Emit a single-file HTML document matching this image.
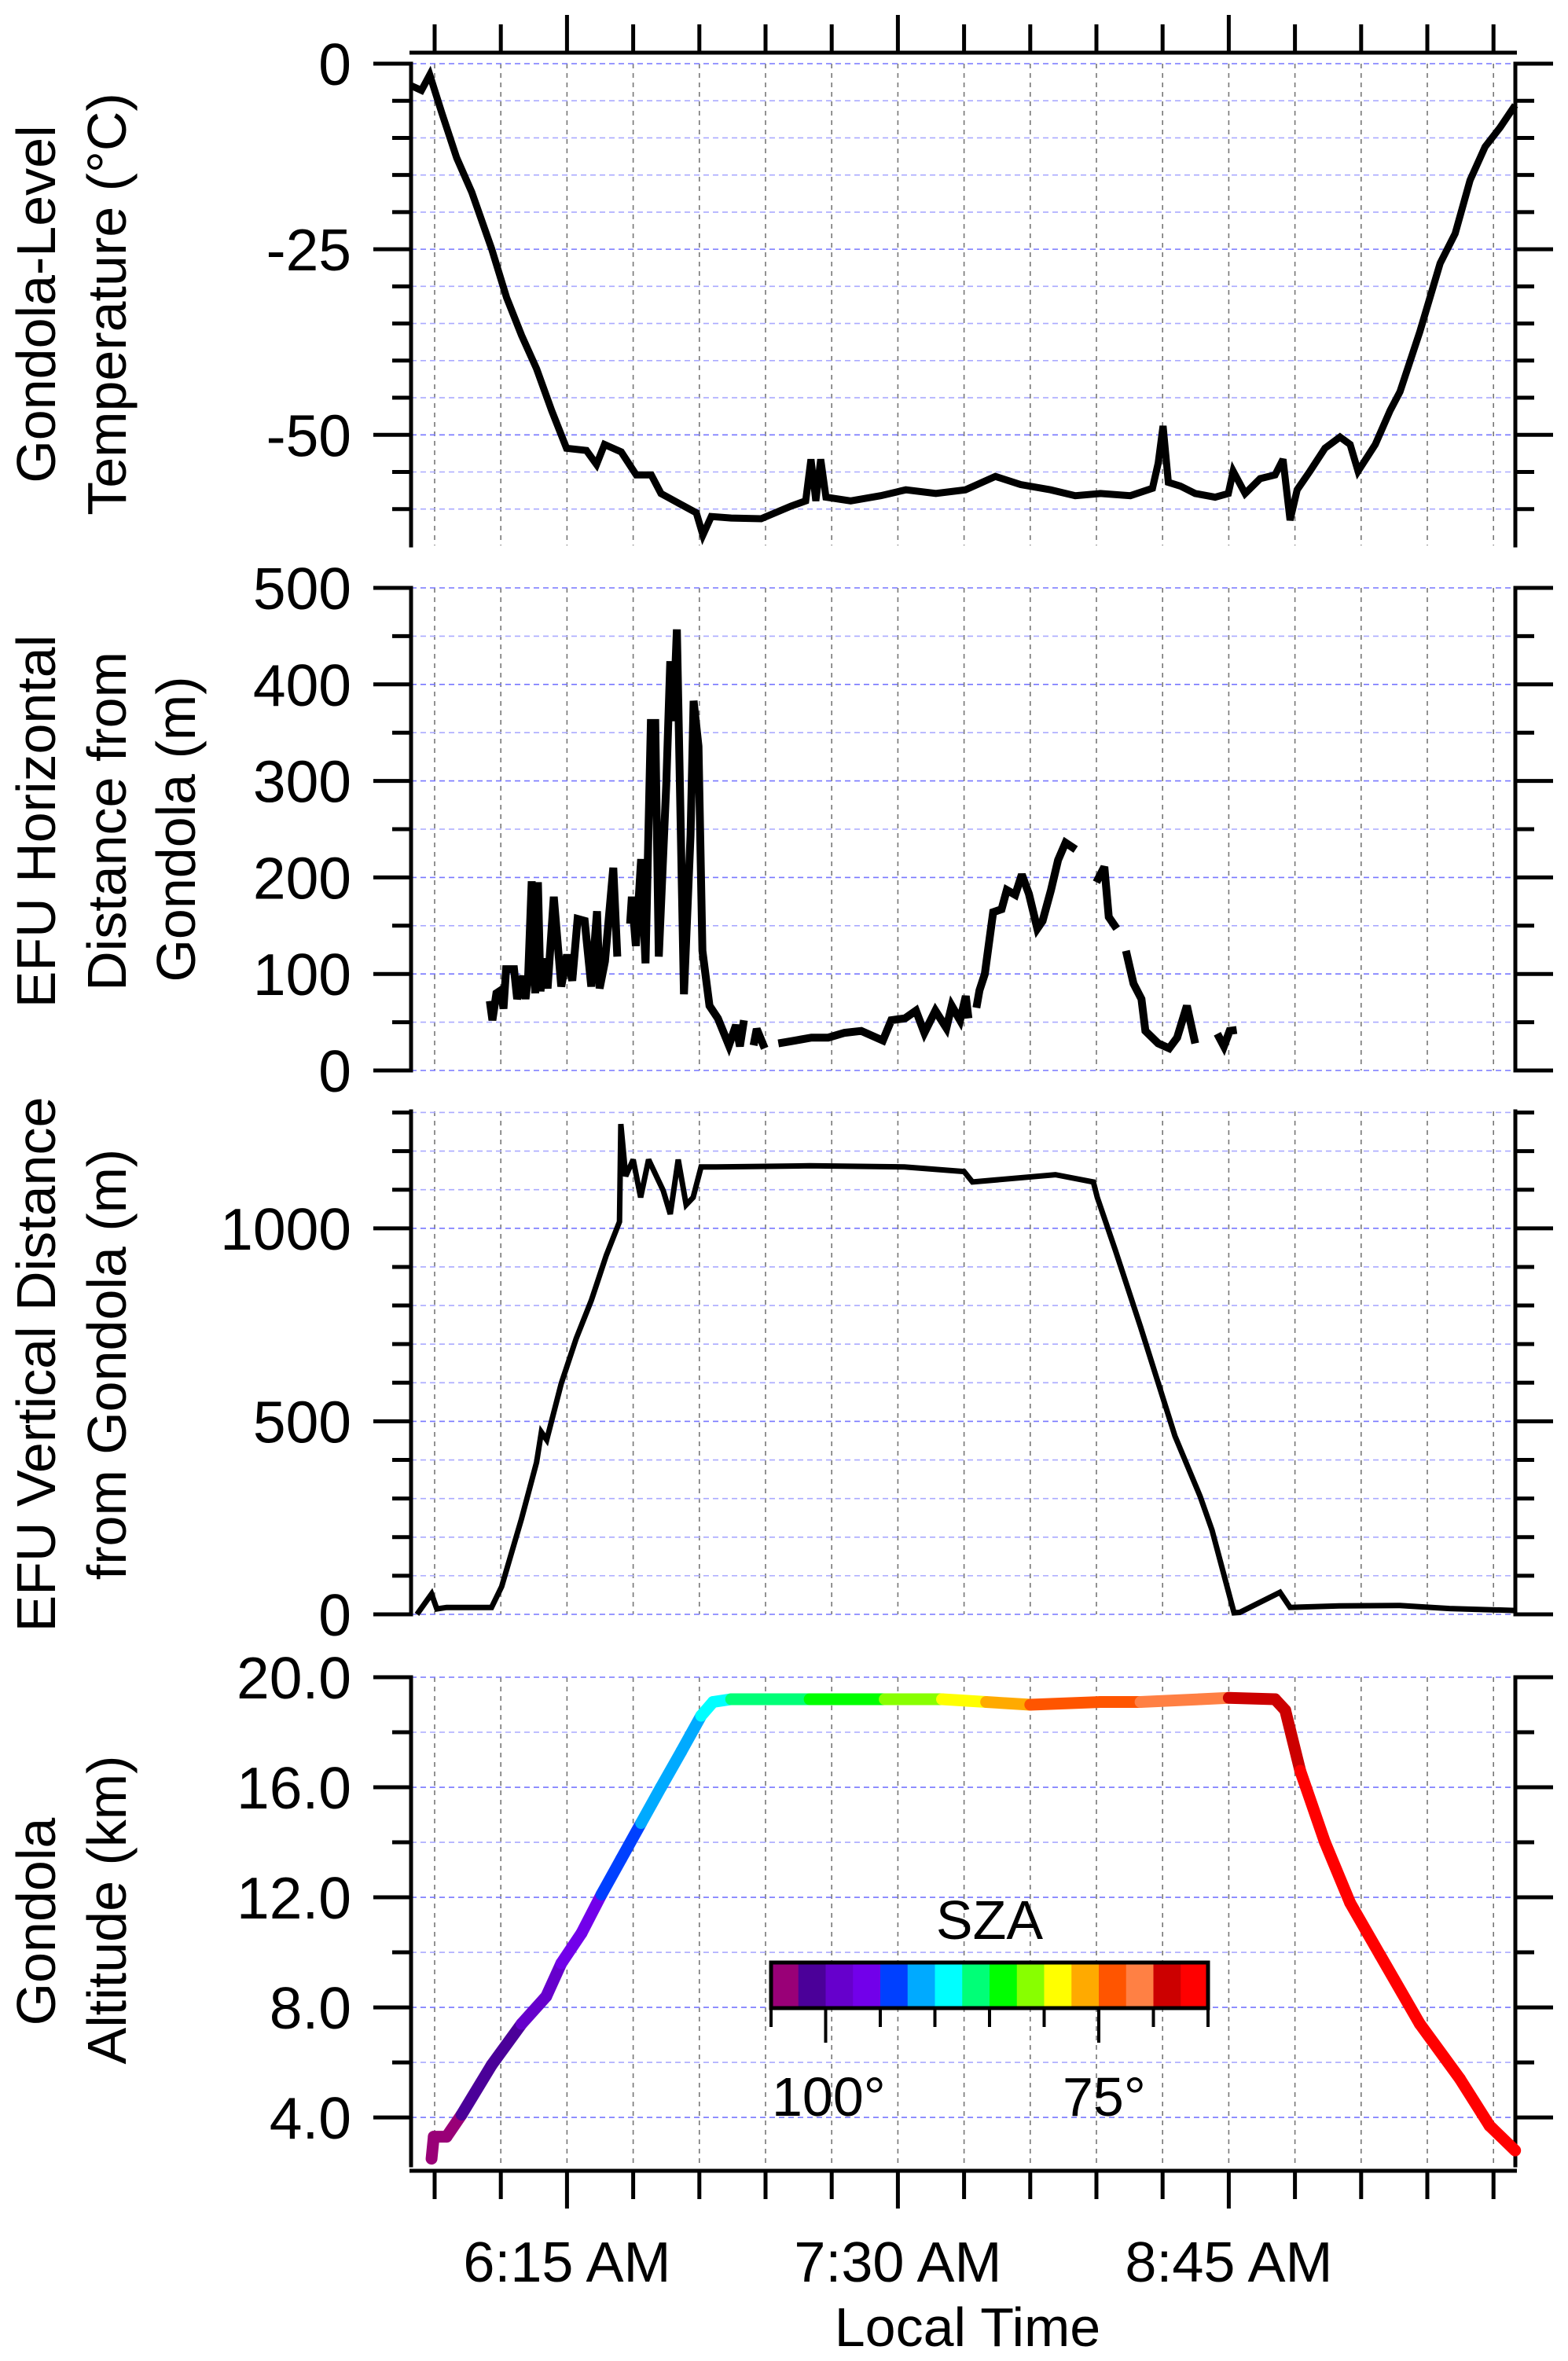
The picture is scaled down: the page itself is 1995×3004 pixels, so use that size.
<!DOCTYPE html>
<html><head><meta charset="utf-8">
<style>
html,body{margin:0;padding:0;background:#fff;}
svg{display:block;}
text{font-family:"Liberation Sans","DejaVu Sans",sans-serif;fill:#000;}
</style></head>
<body>
<svg id="chart" width="1995" height="3004" viewBox="0 0 1995 3004" xmlns="http://www.w3.org/2000/svg">
<g id="grid"></g>
<g id="axes"></g>
<g id="series"></g>
<g id="labels">
  <text font-size="70" text-anchor="middle" transform="translate(70,387) rotate(-90)">Gondola-Level</text>
  <text font-size="70" text-anchor="middle" transform="translate(160,387) rotate(-90)">Temperature (°C)</text>
  <text font-size="70" text-anchor="middle" transform="translate(70,1045) rotate(-90)">EFU Horizontal</text>
  <text font-size="70" text-anchor="middle" transform="translate(160,1045) rotate(-90)">Distance from</text>
  <text font-size="70" text-anchor="middle" transform="translate(248,1055) rotate(-90)">Gondola (m)</text>
  <text font-size="70" text-anchor="middle" transform="translate(70,1736) rotate(-90)">EFU Vertical Distance</text>
  <text font-size="70" text-anchor="middle" transform="translate(160,1736) rotate(-90)">from Gondola (m)</text>
  <text font-size="70" text-anchor="middle" transform="translate(70,2445) rotate(-90)">Gondola</text>
  <text font-size="70" text-anchor="middle" transform="translate(160,2430) rotate(-90)">Altitude (km)</text>
  <text font-size="70" text-anchor="middle" x="1231" y="2985">Local Time</text>
</g>
<g id="legend">
  <text font-size="70" text-anchor="middle" x="1259" y="2467">SZA</text>
  <text font-size="70" x="982" y="2692">100°</text>
  <text font-size="70" x="1352" y="2692">75°</text>
</g>
</svg>
<script>
// ---- data ----
const xTickLabels = ["6:15 AM","7:30 AM","8:45 AM"];
const xTickLabelTimes = [375, 450, 525];
// Panel 1: temperature
const tempTime = [339.8,342,343.9,346.6,350,353.4,357.9,361.3,364.7,368.1,371.5,374.9,379.4,381.7,383.5,387.3,390.7,394.1,396.3,400.9,404.3,405.8,407.7,412.2,419,425.8,429.1,430.3,431.4,432.5,433.7,439.3,446.1,451.8,458.6,465.3,472.1,477.8,484.6,490.2,495.9,502.7,507.7,509,510.1,511.3,514,517.4,521.9,524.9,526,528.7,532.1,535.5,537.3,538.9,540.5,543.4,546.8,550.2,552.5,554.3,558.2,561.6,563.8,568.3,572.9,576.3,579.7,583.1,586.5,589.9];
const tempValue = [-3,-3.6,-1.5,-6.6,-12.7,-17.3,-24.9,-31.5,-36.6,-41.1,-46.7,-51.8,-52.1,-54,-51.3,-52.3,-55.4,-55.4,-57.9,-59.4,-60.5,-63.5,-61,-61.2,-61.3,-59.6,-58.9,-53.3,-58.9,-53.3,-58.4,-58.9,-58.2,-57.4,-57.9,-57.4,-55.6,-56.7,-57.4,-58.2,-57.9,-58.2,-57.2,-53.8,-48.8,-56.4,-56.9,-57.9,-58.4,-57.9,-54.9,-57.9,-55.9,-55.4,-53.3,-61.5,-57.4,-54.9,-51.8,-50.3,-51.3,-54.9,-51.3,-46.7,-44.2,-36.1,-26.9,-22.9,-15.7,-11.2,-8.6,-5.6];
const tempTicks = [0,-25,-50];
// Panel 2: horizontal distance (null = gap)
const hdistTime = [357.5,358.1,359,360,360.6,361.2,363,363.7,365,365.6,366.2,367,367.8,368.4,369,369.7,370.6,372,373.7,375,376.2,377.4,379,380.5,381.8,382.4,383.6,385.5,386.4,387.5,389.3,389.7,390.6,391.8,392.8,394,395,395.8,397.5,398.4,399.1,399.9,400.5,401.5,403,403.7,404.8,405.7,407.3,409.2,411.7,413.3,414.2,415.1,416,417.3,418,419.8,421,422.9,426.7,430.4,434.2,437.9,441.7,446.6,448.5,451.6,454.1,456,458.5,461,462.2,464.1,465.4,466,467,467.8,468.5,469.7,471.6,473.5,474.7,476.6,478.1,479.7,481.6,482.8,484.7,486.3,488,490.3,492,495,496.8,497.8,499.6,500.5,501.7,503.4,505.2,506.1,509,511.5,513.3,515.5,517.4,520,522.4,523.9,525.2,526.8];
const hdistValue = [72,52,80,83,64,105,105,74,98,74,98,196,80,195,82,116,85,180,87,120,93,157,155,87,165,85,113,210,118,null,152,180,129,219,111,360,360,118,296,424,362,457,319,79,244,383,336,124,67,54,26,47,25,52,null,26,43,23,null,28,31,34,34,39,41,31,52,54,62,39,62,44,67,52,77,54,null,65,83,100,164,167,187,182,203,183,147,155,187,218,236,229,null,195,211,159,147,null,124,90,74,41,28,23,34,67,28,null,38,25,41,42];
const hdistTicks = [0,100,200,300,400,500];
// Panel 3: vertical distance
const vdistTime = [341,344.3,345.5,347.7,357.9,360.2,364.7,368.1,369.2,370.4,373.7,377.1,380.5,383.9,386.9,387.2,388.3,390,391.7,393.5,396.8,398.4,400.2,402,403.6,405.4,408.8,430,451.5,465,466.9,485.7,494.3,495.2,499.3,505,512.8,518.5,521.2,526.2,527.5,536.6,538.9,550,563.8,575,589.9];
const vdistValue = [0,53,14,18,18,72,248,394,472,452,598,715,813,930,1017,1270,1135,1178,1080,1178,1098,1037,1178,1061,1080,1159,1159,1162,1159,1147,1120,1139,1120,1080,943,745,462,306,218,4,5,57,18,22,23,15,10];
const vdistTicks = [0,500,1000];
// Panel 4: gondola altitude with solar zenith angle
const altTime = [344.3,344.8,347.7,351.1,357.9,364.7,370.3,373.7,378.3,382.8,387.3,391.8,396.3,400.9,405.4,408.1,412.2,420,430,447,460,470,480,495.9,505,518.5,525,535.5,537.8,541.2,546.8,552.5,559.3,568.3,577.4,584.1,589.9];
const altValue = [2.5,3.3,3.3,4.1,5.9,7.4,8.4,9.6,10.7,12.1,13.4,14.7,16.0,17.3,18.6,19.1,19.2,19.2,19.2,19.2,19.2,19.1,19.0,19.1,19.1,19.2,19.25,19.2,18.8,16.6,14.0,11.8,9.9,7.4,5.4,3.7,2.8];
const altSZA = [104,103.8,103.5,101.5,101,99.5,98.5,97.5,96,94.5,93,91.5,91,90.5,89,88.5,86.5,86,84,81.5,79,77,74.5,73.5,72,71,69.5,68.5,68,66.8,66.5,66.4,66.3,66.2,66.1,66,66];
const altTicks = [4,8,12,16,20];
const szaColors = ["#990077","#4b0099","#6600cc","#7200ea","#0040ff","#00aaff","#00ffff","#00ff77","#00ff00","#88ff00","#ffff00","#ffaa00","#ff5500","#ff8044","#cc0000","#ff0000"];
const szaMax = 105, szaStep = 2.5;

// ---- layout ----
const NS="http://www.w3.org/2000/svg";
const X0=523, X1=1928;
function xScale(t){ return 553 + (t-345)*84.2/15; }
const panels = [
  {name:"temperature", top:81, bottom:694, vmax:0, vmin:-64.9, minor:5, major:25, ticks:tempTicks, fmt:v=>String(v)},
  {name:"horizontal-distance", top:748, bottom:1362, vmax:500, vmin:0, minor:50, major:100, ticks:hdistTicks, fmt:v=>String(v)},
  {name:"vertical-distance", top:1414, bottom:2054, vmax:1303, vmin:0, minor:100, major:500, ticks:vdistTicks, fmt:v=>String(v)},
  {name:"altitude", top:2134, bottom:2755, vmax:20, vmin:2.26, minor:2, major:4, ticks:altTicks, fmt:v=>v.toFixed(1)}
];
function yScale(p,v){ return p.top + (p.vmax - v)/(p.vmax-p.vmin)*(p.bottom-p.top); }
function mk(tag, attrs, parent){ const e=document.createElementNS(NS,tag); for(const k in attrs) e.setAttribute(k,attrs[k]); parent.appendChild(e); return e; }
const grid=document.getElementById('grid'), axes=document.getElementById('axes'), series=document.getElementById('series');

const xTickTimes=[]; for(let k=0;k<=16;k++) xTickTimes.push(345+15*k);

panels.forEach(p=>{
  xTickTimes.forEach(t=>{
    const x=xScale(t);
    const l=mk('line',{x1:x,x2:x,y1:p.top,y2:p.bottom,stroke:"#777","stroke-width":1.6,"stroke-dasharray":"6,6"},grid);
    
    
  });
  for(let v=Math.ceil(p.vmin/p.minor)*p.minor; v<=p.vmax+1e-9; v+=p.minor){
    const y=yScale(p,v);
    const isMajor = Math.abs(v/p.major-Math.round(v/p.major))<1e-6;
    const g=mk('line',{x1:X0,x2:X1,y1:y,y2:y,stroke:isMajor?"#7777ff":"#aaaaff","stroke-width":1.6,"stroke-dasharray":"7,5"},grid);
    
    
    const len=isMajor?48:24;
    const tl=mk('line',{x1:X0-len,x2:X0,y1:y,y2:y,stroke:"#000","stroke-width":5},axes);
    
    
    const tr=mk('line',{x1:X1,x2:X1+len,y1:y,y2:y,stroke:"#000","stroke-width":5},axes);
    
    
  }
  p.ticks.forEach(v=>{
    const t=mk('text',{x:447,y:yScale(p,v)+27,"font-size":75,"text-anchor":"end"},axes);
    t.textContent=p.fmt(v);
    
    
  });
  const la=mk('line',{x1:X0,x2:X0,y1:p.top-2.5,y2:p.bottom+2.5,stroke:"#000","stroke-width":5},axes);
  
  
  const ra=mk('line',{x1:X1,x2:X1,y1:p.top-2.5,y2:p.bottom+2.5,stroke:"#000","stroke-width":5},axes);
  
  
});

[[67,-1],[2762,1]].forEach(([y,dir],i)=>{
  const a=mk('line',{x1:X0-2,x2:X1+2,y1:y,y2:y,stroke:"#000","stroke-width":5},axes);
  
  
  xTickTimes.forEach(t=>{
    const major = xTickLabelTimes.indexOf(t)>=0;
    const x=xScale(t);
    const l=mk('line',{x1:x,x2:x,y1:y,y2:y+dir*(major?48:36),stroke:"#000","stroke-width":5},axes);
    
    
  });
});
xTickLabels.forEach((s,i)=>{
  const t=mk('text',{x:xScale(xTickLabelTimes[i]),y:2903,"font-size":72,"text-anchor":"middle"},axes);
  t.textContent=s;
  
  
});

function drawLine(p, times, vals, name, width){
  let d="", pen=false;
  for(let i=0;i<times.length;i++){
    if(vals[i]===null){ pen=false; continue; }
    d += (pen?"L":"M") + xScale(times[i]).toFixed(1)+","+yScale(p,vals[i]).toFixed(1);
    pen=true;
  }
  const path=mk('path',{d:d,fill:"none",stroke:"#000","stroke-width":width,"stroke-linejoin":"miter","stroke-miterlimit":3},series);
  
  
}
drawLine(panels[0], tempTime, tempValue, 'temperature-line', 9);
drawLine(panels[1], hdistTime, hdistValue, 'horizontal-distance-line', 10);
drawLine(panels[2], vdistTime, vdistValue, 'vertical-distance-line', 7);

function szaColor(s){ let k=Math.floor((szaMax-s)/szaStep); k=Math.max(0,Math.min(szaColors.length-1,k)); return szaColors[k]; }
for(let i=0;i<altTime.length-1;i++){
  const seg=mk('line',{x1:xScale(altTime[i]),y1:yScale(panels[3],altValue[i]),x2:xScale(altTime[i+1]),y2:yScale(panels[3],altValue[i+1]),stroke:szaColor(altSZA[i]),"stroke-width":15,"stroke-linecap":"round"},series);
  
  
}

const legend=document.getElementById('legend');
const cbX=981, cbW=556, cbY=2497, cbH=58;
szaColors.forEach((c,i)=>{
  const r=mk('rect',{x:cbX+i*cbW/16,y:cbY,width:cbW/16+0.5,height:cbH,fill:c},legend);
  
  
});
const cbo=mk('rect',{x:cbX,y:cbY,width:cbW,height:cbH,fill:"none",stroke:"#000","stroke-width":5},legend);


for(let k=0;k<=8;k++){
  const x=cbX+k*cbW/8, long=(k===1||k===6);
  const l=mk('line',{x1:x,x2:x,y1:cbY+cbH,y2:cbY+cbH+(long?44:24),stroke:"#000","stroke-width":4},legend);
  
  
}
</script>
</body></html>
